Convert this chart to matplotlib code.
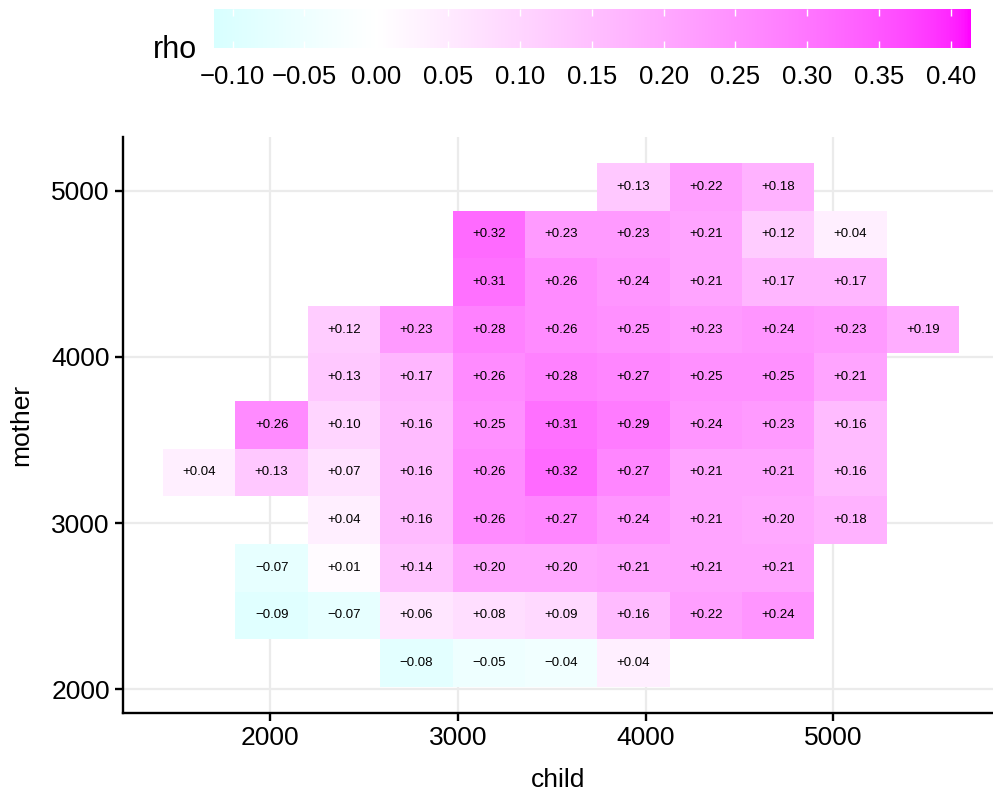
import numpy as np
import matplotlib
matplotlib.use("Agg")
import matplotlib.pyplot as plt
from matplotlib.colors import ListedColormap, Normalize

plt.rcParams['font.family'] = ['Liberation Sans', 'DejaVu Sans']

# bin midpoints (grams)
child = [1621, 2007, 2392, 2778, 3164, 3549, 3935, 4320, 4706, 5092, 5477]
mother = [2159, 2446, 2732, 3019, 3305, 3592, 3878, 4164, 4451, 4737, 5024]

# rho per (mother row, child column), bottom row first; None = empty bin
rho = [
    [None, None, None, -0.08, -0.05, -0.04, 0.04, None, None, None, None],
    [None, -0.09, -0.07, 0.06, 0.08, 0.09, 0.16, 0.22, 0.24, None, None],
    [None, -0.07, 0.01, 0.14, 0.20, 0.20, 0.21, 0.21, 0.21, None, None],
    [None, None, 0.04, 0.16, 0.26, 0.27, 0.24, 0.21, 0.20, 0.18, None],
    [0.04, 0.13, 0.07, 0.16, 0.26, 0.32, 0.27, 0.21, 0.21, 0.16, None],
    [None, 0.26, 0.10, 0.16, 0.25, 0.31, 0.29, 0.24, 0.23, 0.16, None],
    [None, None, 0.13, 0.17, 0.26, 0.28, 0.27, 0.25, 0.25, 0.21, None],
    [None, None, 0.12, 0.23, 0.28, 0.26, 0.25, 0.23, 0.24, 0.23, 0.19],
    [None, None, None, None, 0.31, 0.26, 0.24, 0.21, 0.17, 0.17, None],
    [None, None, None, None, 0.32, 0.23, 0.23, 0.21, 0.12, 0.04, None],
    [None, None, None, None, None, None, 0.13, 0.22, 0.18, None, None],
]

rho_min, rho_max = -0.113, 0.414
bar_ticks = [-0.10, -0.05, 0.00, 0.05, 0.10, 0.15, 0.20, 0.25, 0.30, 0.35, 0.40]


# --- ggplot-like gradient2 (Lab interpolation) ---
M = np.array([[0.4124, 0.3576, 0.1805],
              [0.2126, 0.7152, 0.0722],
              [0.0193, 0.1192, 0.9505]])
WP = np.array([0.95047, 1.0, 1.08883])


def rgb2lab(rgb):
    c = np.asarray(rgb, float)
    lin = np.where(c <= 0.04045, c / 12.92, ((c + 0.055) / 1.055) ** 2.4)
    xyz = M @ lin / WP
    f = np.where(xyz > (6 / 29) ** 3, np.cbrt(xyz), xyz / (3 * (6 / 29) ** 2) + 4 / 29)
    return np.array([116 * f[1] - 16, 500 * (f[0] - f[1]), 200 * (f[1] - f[2])])


def lab2rgb(lab):
    L, a, b = lab
    fy = (L + 16) / 116
    fx = fy + a / 500
    fz = fy - b / 200
    f = np.array([fx, fy, fz])
    xyz = np.where(f > 6 / 29, f ** 3, 3 * (6 / 29) ** 2 * (f - 4 / 29)) * WP
    lin = np.linalg.solve(M, xyz)
    lin = np.clip(lin, 0, 1)
    c = np.where(lin <= 0.0031308, 12.92 * lin, 1.055 * lin ** (1 / 2.4) - 0.055)
    return np.clip(c, 0, 1)


lo, mid, hi = rgb2lab([0, 1, 1]), rgb2lab([1, 1, 1]), rgb2lab([1, 0, 1])
vals = np.linspace(rho_min, rho_max, 512)
span = max(abs(rho_min), abs(rho_max))
cols = []
for v in vals:
    t = 0.5 + v / (2 * span)
    if t < 0.5:
        lab = lo + (mid - lo) * (t / 0.5)
    else:
        lab = mid + (hi - mid) * ((t - 0.5) / 0.5)
    cols.append(lab2rgb(lab))
cmap = ListedColormap(cols)
norm = Normalize(rho_min, rho_max)

fig = plt.figure(figsize=(9.93, 7.94), dpi=100)
ax = fig.add_axes([123 / 993, 81 / 794, 870 / 993, 576 / 794])

z = np.ma.masked_invalid(np.array([[np.nan if v is None else v for v in r] for r in rho]))
cx = np.array(child, float)
my = np.array(mother, float)
dx = np.diff(cx).mean()
dy = np.diff(my).mean()
xe = np.append(cx - dx / 2, cx[-1] + dx / 2)
ye = np.append(my - dy / 2, my[-1] + dy / 2)
mesh = ax.pcolormesh(xe, ye, z, cmap=cmap, norm=norm, edgecolors='none')

for i, r in enumerate(rho):
    for j, v in enumerate(r):
        if v is None:
            continue
        ax.text(cx[j], my[i], f"{v:+.2f}".replace('-', '\u2212'),
                ha='center', va='center', fontsize=9.5, color='black')

ax.set_xlim(1215, 5851)
ax.set_ylim(1858, 5323)
ax.set_xticks([2000, 3000, 4000, 5000])
ax.set_yticks([2000, 3000, 4000, 5000])
ax.set_axisbelow(True)
ax.grid(True, color='#ebebeb', lw=1.6)
for s in ['top', 'right']:
    ax.spines[s].set_visible(False)
for s in ['left', 'bottom']:
    ax.spines[s].set_linewidth(1.7)
ax.tick_params(length=5.5, width=1.7, labelsize=19, pad=4)
ax.set_xlabel('child', fontsize=19, labelpad=13)
ax.set_ylabel('mother', fontsize=19, labelpad=13)

cax = fig.add_axes([214 / 993, 746 / 794, 757 / 993, 39 / 794])
cb = fig.colorbar(mesh, cax=cax, orientation='horizontal')
cb.outline.set_visible(False)
cb.set_ticks(bar_ticks)
cb.set_ticklabels([f"{t:.2f}".replace('-', '\u2212') for t in bar_ticks])
cax.tick_params(direction='in', colors='white', length=5, width=1,
                top=True, bottom=True, labelsize=18.5, labelcolor='black', pad=12)
fig.text(175 / 993, 1 - 50 / 794, 'rho', ha='center', va='center', fontsize=22)

fig.savefig('out.png', dpi=100)
